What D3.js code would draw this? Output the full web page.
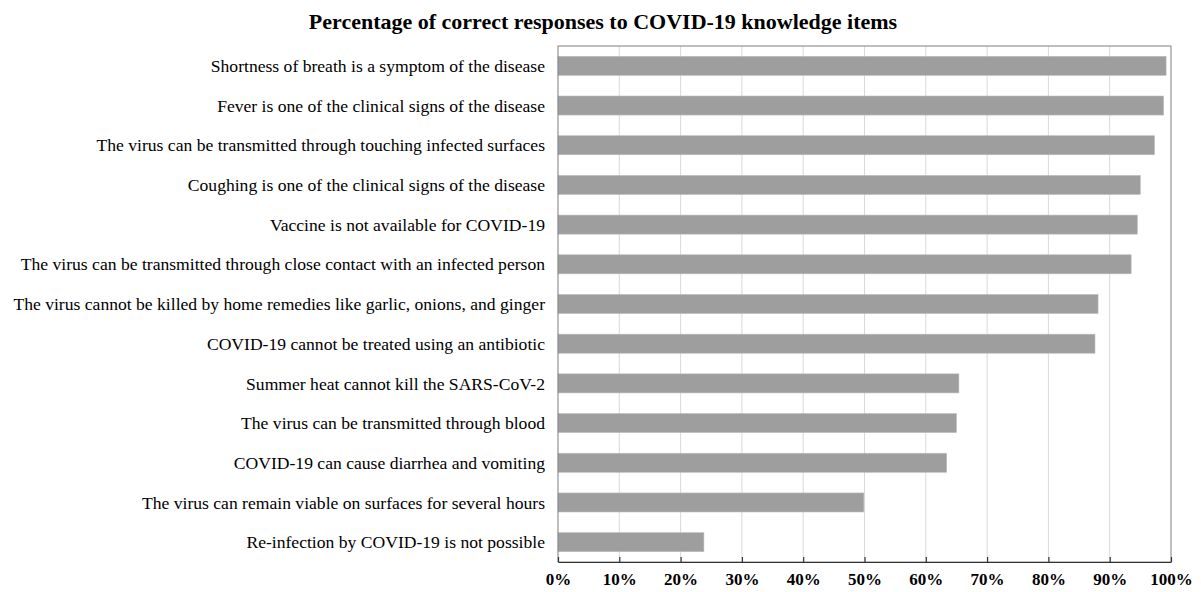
<!DOCTYPE html>
<html><head><meta charset="utf-8">
<script src="https://cdn.jsdelivr.net/npm/d3@7"></script>
<style>body{margin:0;background:#fff}svg{display:block}</style>
</head><body>
<script>
const title = "Percentage of correct responses to COVID-19 knowledge items";
const items = [
  "Shortness of breath is a symptom of the disease",
  "Fever is one of the clinical signs of the disease",
  "The virus can be transmitted through touching infected surfaces",
  "Coughing is one of the clinical signs of the disease",
  "Vaccine is not available for COVID-19",
  "The virus can be transmitted through close contact with an infected person",
  "The virus cannot be killed by home remedies like garlic, onions, and ginger",
  "COVID-19 cannot be treated using an antibiotic",
  "Summer heat cannot kill the SARS-CoV-2",
  "The virus can be transmitted through blood",
  "COVID-19 can cause diarrhea and vomiting",
  "The virus can remain viable on surfaces for several hours",
  "Re-infection by COVID-19 is not possible"
];
const percentCorrect = [99.2, 98.8, 97.3, 95.0, 94.5, 93.5, 88.1, 87.6, 65.4, 65.0, 63.4, 49.9, 23.8];
const tickValues = [0,10,20,30,40,50,60,70,80,90,100];

const W = 1201, H = 592;
const m = {left:558, right:30, top:46, bottom:30};
const svg = d3.select("body").append("svg").attr("width",W).attr("height",H);
const iw = W - m.left - m.right, ih = H - m.top - m.bottom;
const serif = "'Liberation Serif','Times New Roman',serif";

const x = d3.scaleLinear().domain([0,100]).range([m.left, m.left+iw]);
const y = d3.scaleBand().domain(items).range([m.top, m.top+ih]).paddingInner(0.52).paddingOuter(0.26);

svg.append("text").attr("x",603).attr("y",29).attr("text-anchor","middle")
  .style("font-family",serif).style("font-weight","bold").style("font-size","22px")
  .text(title);

// gridlines
svg.append("g").selectAll("line").data(tickValues.slice(1,-1)).join("line")
  .attr("x1",d=>x(d)).attr("x2",d=>x(d)).attr("y1",m.top).attr("y2",m.top+ih)
  .attr("stroke","#d9d9d9").attr("stroke-width",1);

// bars
svg.append("g").selectAll("rect").data(items).join("rect")
  .attr("x",x(0)).attr("y",d=>y(d)).attr("width",(d,i)=>x(percentCorrect[i])-x(0)).attr("height",y.bandwidth())
  .attr("fill","#9e9e9e").attr("stroke","#bdbdbd").attr("stroke-width",0.6);

// frame
svg.append("rect").attr("x",m.left).attr("y",m.top).attr("width",iw).attr("height",ih)
  .attr("fill","none").attr("stroke","#7f7f7f").attr("stroke-width",1);

// category labels
svg.append("g").selectAll("text").data(items).join("text")
  .attr("x",m.left-13).attr("y",d=>y(d)+y.bandwidth()/2).attr("dy","0.35em").attr("text-anchor","end")
  .style("font-family",serif).style("font-size","17.6px").attr("fill","#000")
  .text(d=>d);

// x axis
const xa = svg.append("g").attr("transform",`translate(0,${m.top+ih})`)
  .call(d3.axisBottom(x).tickValues(tickValues).tickFormat(d=>d+"%").tickSizeInner(-5).tickSizeOuter(0).tickPadding(11));
xa.select(".domain").attr("stroke","#333").attr("stroke-width",1.2);
xa.selectAll(".tick line").attr("stroke","#333").attr("stroke-width",1.2);
xa.selectAll(".tick text").style("font-family",serif)
  .style("font-weight","bold").style("font-size","17px").attr("fill","#000");
</script>
</body></html>
